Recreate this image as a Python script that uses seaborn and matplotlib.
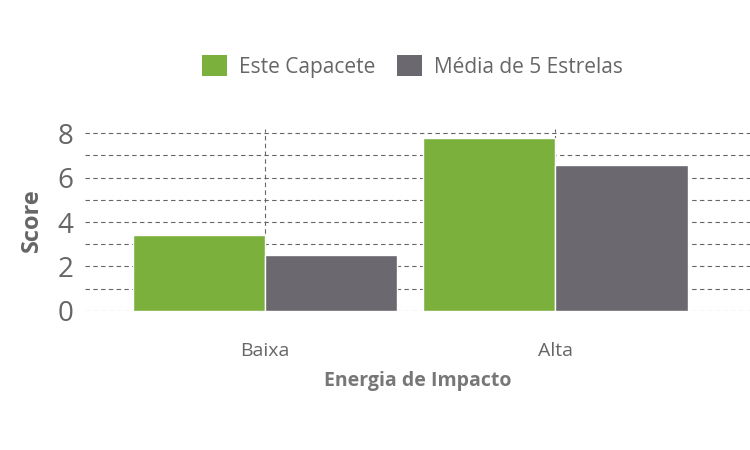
import matplotlib
matplotlib.use("Agg")
import matplotlib.pyplot as plt
import seaborn as sns
import pandas as pd
from matplotlib.patches import Patch

categories = ["Baixa", "Alta"]
series = ["Este Capacete", "Média de 5 Estrelas"]
este = [3.42, 7.78]
media = [2.52, 6.56]
colors = ["#7cb03c", "#6b6870"]

df = pd.DataFrame({
    "Energia": categories * 2,
    "Série": [series[0]] * 2 + [series[1]] * 2,
    "Score": este + media,
})

sns.set_style("white")
plt.rcParams['font.family'] = ['Open Sans', 'DejaVu Sans']
fig = plt.figure(figsize=(7.5, 4.5), dpi=100)
ax = fig.add_axes([0.113, 0.309, 0.887, 0.405])
sns.barplot(data=df, x="Energia", y="Score", hue="Série", palette=colors,
            width=0.91, saturation=1, ax=ax, legend=False, zorder=3)
ax.set_xlim(-0.62, 1.67)
ax.set_ylim(0, 8.2)
ax.set_yticks([0, 2, 4, 6, 8])
ax.set_yticks([1, 3, 5, 7], minor=True)
ax.grid(True, which="both", axis="y", linestyle=(0, (4, 3)), color="#666666", linewidth=0.8, zorder=0)
ax.grid(True, which="major", axis="x", linestyle=(0, (4, 3)), color="#666666", linewidth=0.8, zorder=0)
for s in ax.spines.values():
    s.set_visible(False)
ax.tick_params(axis="y", labelsize=20, labelcolor="#666666", length=0, pad=8)
ax.tick_params(axis="x", labelsize=14, labelcolor="#666666", length=0, pad=22)
ax.set_ylabel("Score", fontsize=17, fontweight="bold", color="#666666", labelpad=10)
ax.set_xlabel("Energia de Impacto", fontsize=14, fontweight="bold", color="#777777", labelpad=8)
handles = [Patch(facecolor=c, edgecolor="none") for c in colors]
fig.legend(handles, series, loc="center", bbox_to_anchor=(0.55, 0.853), ncol=2, frameon=False,
           fontsize=15, labelcolor="#666666", handlelength=1.2, handleheight=1.2,
           columnspacing=1.0, handletextpad=0.6)
fig.savefig("out.png", dpi=100)
